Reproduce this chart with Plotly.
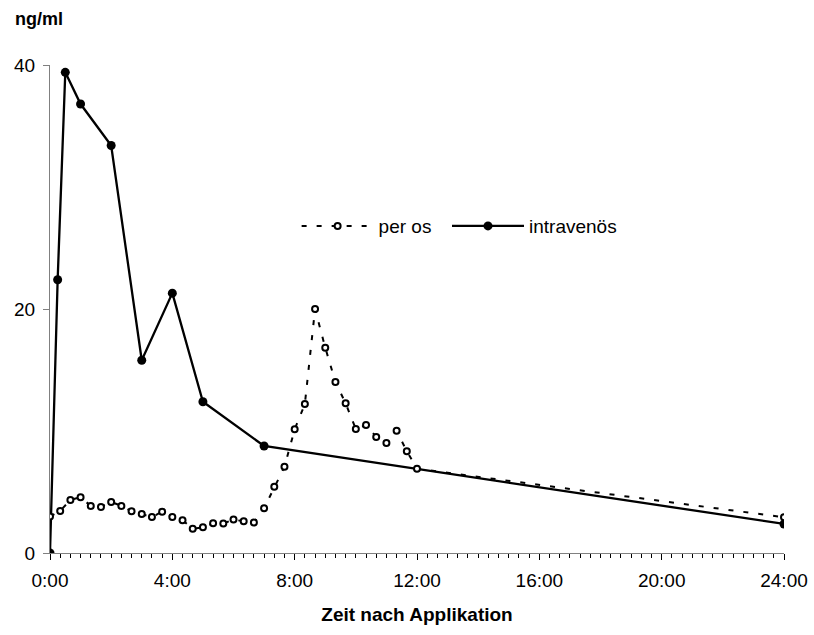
import plotly.graph_objects as go

# ---- data ----
per_os_times = ["0:00", "0:20", "0:40", "1:00", "1:20", "1:40", "2:00", "2:20", "2:40",
                "3:00", "3:20", "3:40", "4:00", "4:20", "4:40", "5:00", "5:20", "5:40",
                "6:00", "6:20", "6:40", "7:00", "7:20", "7:40", "8:00", "8:20", "8:40",
                "9:00", "9:20", "9:40", "10:00", "10:20", "10:40", "11:00", "11:20", "11:40",
                "12:00", "24:00"]
per_os_values = [3.0, 3.45, 4.35, 4.57, 3.86, 3.78, 4.19, 3.86, 3.42,
                 3.20, 2.95, 3.39, 2.95, 2.68, 1.99, 2.11, 2.43, 2.41,
                 2.74, 2.60, 2.49, 3.66, 5.43, 7.07, 10.14, 12.21, 20.0,
                 16.83, 14.02, 12.27, 10.16, 10.49, 9.51, 9.02, 10.02, 8.34,
                 6.91, 2.93]

iv_times = ["0:00", "0:15", "0:30", "1:00", "2:00", "3:00", "4:00", "5:00", "7:00", "24:00"]
iv_values = [0.0, 22.4, 39.4, 36.8, 33.4, 15.8, 21.3, 12.4, 8.77, 2.38]

x_tick_vals = [0, 4, 8, 12, 16, 20, 24]
x_tick_text = ["0:00", "4:00", "8:00", "12:00", "16:00", "20:00", "24:00"]
y_tick_vals = [0, 20, 40]

series_names = ["per os", "intravenös"]
x_title = "Zeit nach Applikation"
y_title = "ng/ml"


def to_hours(s):
    h, m = s.split(":")
    return int(h) + int(m) / 60.0


FONT = "Liberation Sans, Arial, sans-serif"
FS = 19
NBSP = "\u00a0"

fig = go.Figure()

fig.add_trace(go.Scatter(
    x=[to_hours(t) for t in iv_times], y=iv_values,
    mode="lines+markers", name=series_names[1], legendrank=2,
    line=dict(color="black", width=2.3),
    marker=dict(symbol="circle", size=9, color="black"),
))

fig.add_trace(go.Scatter(
    x=[to_hours(t) for t in per_os_times], y=per_os_values,
    mode="lines+markers", name=series_names[0] + NBSP * 2, legendrank=1,
    line=dict(color="black", width=2, dash="5px,10px"),
    marker=dict(symbol="circle", size=6, color="white",
                line=dict(color="black", width=2)),
))

fig.update_layout(
    width=814, height=635,
    margin=dict(l=50, r=30, t=65, b=82, autoexpand=False),
    paper_bgcolor="white", plot_bgcolor="white",
    font=dict(family=FONT, size=FS, color="black"),
    showlegend=True,
    legend=dict(orientation="h", x=0.336, y=0.67, xanchor="left", yanchor="middle",
                itemwidth=72, bgcolor="rgba(0,0,0,0)",
                font=dict(family=FONT, size=FS, color="black"),
                tracegroupgap=0),
    title=dict(text="<b>" + y_title + "</b>", xref="container", yref="container",
               x=15 / 814, xanchor="left", y=1 - 19 / 635, yanchor="middle",
               font=dict(family=FONT, size=18, color="black")),
)

fig.update_xaxes(
    range=[0, 24], showgrid=False, zeroline=False, automargin=False,
    showline=True, linecolor="#808080", linewidth=1,
    tickmode="array", tickvals=x_tick_vals, ticktext=x_tick_text,
    ticks="outside", ticklen=6, tickcolor="black", tickwidth=1,
    ticklabelstandoff=4,
    minor=dict(tick0=0, dtick=1 / 3, ticks="outside", ticklen=4,
               tickcolor="black", tickwidth=1, showgrid=False),
    title=dict(text="<b>" + x_title + "</b>", standoff=17,
               font=dict(family=FONT, size=FS, color="black")),
)

fig.update_yaxes(
    range=[0, 40], showgrid=False, zeroline=False, automargin=False,
    showline=True, linecolor="#808080", linewidth=1,
    tickmode="array", tickvals=y_tick_vals,
    ticks="outside", ticklen=6, tickcolor="#808080", tickwidth=1,
    ticklabelstandoff=4,
)

fig.write_html("out.html")
